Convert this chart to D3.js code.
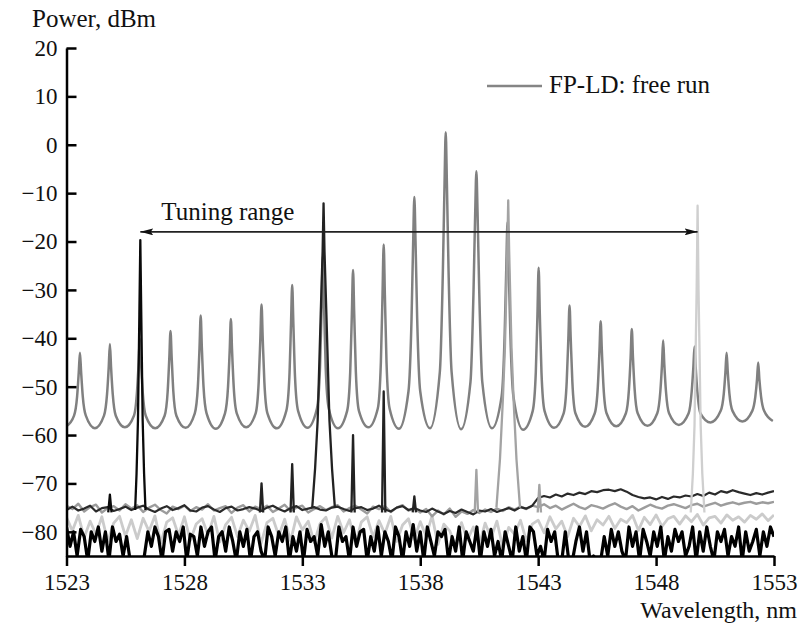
<!DOCTYPE html>
<html lang="en">
<head>
<meta charset="UTF-8">
<title>FP-LD spectrum</title>
<script src="https://d3js.org/d3.v7.min.js"></script>
<style>
    body { margin: 0; background: #fff; }
</style>
</head>
<body>
<script>
    // ---- data ----
    var xTicks = [1523, 1528, 1533, 1538, 1543, 1548, 1553];
    var yTicks = [20, 10, 0, -10, -20, -30, -40, -50, -60, -70, -80];

    // free running FP-LD: mode centres (nm) and levels (dBm)
    var modeNm = [1523.57, 1524.84, 1526.11, 1527.41, 1528.69, 1529.97, 1531.27, 1532.57, 1533.87, 1535.15, 1536.45, 1537.75,
                  1539.08, 1540.38, 1541.70, 1543.02, 1544.33, 1545.65, 1546.97, 1548.30, 1549.63, 1550.99, 1552.33];
    var freeRunPeak = [-43, -41.2, -40, -38.5, -35.3, -36, -33, -29, -23, -25.9, -20.6, -10.8,
                       2.6, -5.5, -16, -25.4, -33.2, -36.5, -38.1, -40.4, -41.7, -43, -45];
    var freeRunNear = [-47, -46, -45, -44, -42, -42.5, -40, -37, -33, -35, -31, -20,
                       -8, -14, -25, -35, -40, -42.5, -44, -45.5, -46, -47, -48.5];   // +/-0.05 nm
    var freeRunMid = [-52, -51.5, -51, -51, -50, -50, -49, -48, -46, -47, -45, -36,
                      -26, -30, -39, -47, -49, -50, -50.5, -51, -51, -51.5, -52];     // +/-0.12 nm
    var freeRunFar = [-56, -56, -56, -56, -55.5, -55.5, -55.5, -55, -54.5, -55, -54.5, -51,
                      -47, -49, -52, -55, -55.5, -55.5, -55.5, -55.5, -55.5, -55, -55]; // +/-0.25 nm
    // start, the 22 minima between modes, end
    var freeRunTrough = [-58.2, -58.6, -58.4, -58.6, -58.5, -58.7, -58.4, -58.6, -58.5, -58.6, -58.4, -58.7, -58.6,
                         -58.8, -58.6, -58.9, -58.5, -58.3, -58.2, -58.1, -57.9, -57.4, -57.2, -57.1];

    // injection-locked spectra: main peaks
    var lock1Peak = [[1525.91, -75.5], [1525.97, -68], [1526.03, -57], [1526.09, -35], [1526.13, -19.7],
                     [1526.17, -35], [1526.23, -57], [1526.29, -68], [1526.35, -75.5]];
    var lock2Peak = [[1533.42, -75], [1533.54, -67], [1533.65, -57], [1533.78, -35], [1533.86, -22], [1533.9, -12.1],
                     [1533.94, -22], [1534.02, -35], [1534.15, -57], [1534.26, -67], [1534.38, -75]];
    var lock3Peak = [[1541.23, -75], [1541.38, -65], [1541.5, -53], [1541.59, -42], [1541.69, -22], [1541.73, -11.5],
                     [1541.77, -22], [1541.87, -42], [1541.96, -53], [1542.08, -65], [1542.23, -75]];
    var lock4Peak = [[1549.47, -76], [1549.56, -68], [1549.63, -58], [1549.68, -42], [1549.72, -30], [1549.76, -12.6],
                     [1549.8, -30], [1549.84, -42], [1549.89, -58], [1549.96, -68], [1550.05, -76]];
    // small side modes of the locked spectra [nm, dBm]
    var lock1Side = [[1524.84, -72.3]];
    var lock2Side = [[1531.27, -70], [1532.57, -66], [1535.15, -60], [1536.45, -51], [1537.75, -72.7]];
    var lock3Side = [[1540.38, -67.2], [1543.05, -70.3]];

    // noise floors, from 1523 nm
    var floorStep = 0.25;
    var lock2Floor = [
        -75.5, -74.8, -75.6, -75.2, -74.6, -75.8, -75.1, -74.9, -75.7, -75.3, -74.8, -75.5,
        -75.0, -74.6, -75.4, -75.9, -75.2, -74.7, -75.5, -75.1, -74.5, -75.6, -75.8, -75.0,
        -74.7, -75.4, -75.9, -75.1, -74.8, -75.6, -75.3, -74.9, -75.2, -75.7, -75.0, -74.6,
        -75.3, -75.8, -75.1, -74.7, -75.5, -75.2, -74.9, -75.4, -75.6, -75.0, -74.8, -75.3,
        -75.7, -75.1, -74.9, -75.5, -75.2, -74.6, -75.4, -75.8, -75.0, -74.7, -75.5, -75.1,
        -75.6, -75.9, -75.2, -75.8, -76.3, -75.7, -76.1, -75.4, -75.9, -76.4, -75.6, -75.8,
        -75.3, -75.9, -75.5, -75.1, -75.6, -74.9, -75.2, -74.6,
        -73.0, -72.6, -72.9, -72.3, -72.7, -72.1, -72.4, -71.9, -72.2, -71.6, -71.8, -71.4,
        -71.3, -71.6, -71.2, -71.7, -72.4, -72.8, -73.1, -72.9, -73.3, -72.8, -73.2, -72.7,
        -72.9, -72.5, -72.7, -72.2, -72.6, -71.9, -72.3, -71.6, -71.9, -71.4, -71.8, -72.1,
        -72.4, -72.0, -72.3, -71.9, -71.6];
    var lock3Floor = [
        -74.6, -75.3, -74.2, -75.8, -74.9, -74.4, -76.0, -75.1, -74.7, -75.6, -74.3, -75.2,
        -74.5, -75.9, -75.0, -74.4, -75.5, -76.2, -74.8, -75.3, -74.6, -75.7, -74.9, -75.4,
        -74.3, -75.6, -75.1, -74.7, -76.1, -75.0, -74.5, -75.8, -74.8, -75.3, -74.6, -75.9,
        -75.2, -74.4, -75.7, -75.0, -74.6, -76.0, -75.3, -74.7, -75.5, -74.9, -74.5, -75.8,
        -75.1, -74.6, -75.4, -76.2, -74.8, -75.3, -74.7, -75.9, -75.0, -74.5, -75.6, -75.2,
        -76.0, -75.3, -76.8, -75.6, -76.4, -75.2, -76.9, -75.8, -76.3, -75.5, -76.1, -75.4,
        -75.9, -75.2, -75.7, -74.9, -75.4, -74.8, -75.3, -74.6,
        -74.9, -74.3, -75.1, -74.6, -75.4, -74.8, -74.2, -74.9, -75.3, -74.5, -74.8, -75.2,
        -74.6, -74.1, -74.8, -75.3, -74.7, -75.6, -75.0, -74.4, -74.9, -75.2, -74.6, -74.3,
        -74.7, -75.1, -74.5, -74.2, -74.8, -74.4, -74.0, -74.6, -74.2, -73.9, -74.3, -74.0,
        -73.8, -74.2, -73.9, -74.1, -73.8];
    var lock4Floor = [
        -77.0, -79.8, -76.6, -81.2, -77.8, -80.5, -76.9, -82.0, -78.2, -76.8, -80.9, -77.5,
        -81.4, -77.2, -79.9, -76.7, -82.3, -78.0, -77.1, -80.7, -76.9, -81.8, -78.4, -77.3,
        -80.6, -76.8, -82.1, -78.5, -77.0, -81.0, -77.6, -79.9, -76.6, -82.4, -78.1, -77.2,
        -80.8, -77.4, -81.9, -76.9, -79.6, -77.8, -82.2, -78.3, -77.0, -81.3, -76.8, -80.2,
        -77.5, -82.5, -78.0, -76.9, -81.1, -77.7, -80.4, -76.8, -82.0, -78.6, -77.3, -81.5,
        -77.9, -80.9, -76.7, -82.6, -78.4, -79.8, -83.0, -78.1, -81.7, -79.0, -82.8, -78.2,
        -81.3, -77.8, -83.2, -79.1, -80.5, -77.6, -81.9, -78.4,
        -77.6, -80.2, -76.9, -79.4, -77.8, -81.0, -77.2, -78.9, -76.7, -79.8, -77.5, -78.6,
        -76.8, -79.3, -77.4, -78.1, -76.6, -79.7, -77.0, -78.5, -76.5, -78.9, -77.3, -76.8,
        -78.4, -76.7, -77.9, -76.4, -78.6, -77.1, -76.8, -78.2, -76.5, -77.6, -76.9, -78.0,
        -76.6, -77.4, -76.3, -77.7, -76.5];
    var blackStep = 0.15;
    var lock1Floor = [
        -79, -83, -80, -85, -79.5, -81, -86, -80, -82, -79,
        -84, -80, -86, -79, -82, -80.5, -85, -81, -86, -86,
        -86, -86, -85, -80, -83, -79, -81, -86, -80, -79.5,
        -84, -80, -82, -79, -86, -80.5, -81, -85, -79, -83,
        -80, -79, -86, -81, -80, -84, -79, -82, -86, -80,
        -83, -79.5, -86, -81, -80, -84, -86, -79, -81, -85,
        -80, -82, -79, -86, -81, -84, -80, -86, -79.5, -82,
        -81, -85, -78.5, -83, -80, -85, -86, -79, -82, -81,
        -86, -79, -83, -80, -79.5, -86, -81, -84, -79, -85,
        -80, -82, -86, -79, -81, -86, -80, -83, -78.5, -84,
        -80, -86, -79, -82, -85, -80, -81, -79.5, -86, -81,
        -84, -79, -86, -80, -82, -84, -79, -86, -80, -83,
        -79.5, -85, -82, -86, -80, -83, -86, -79, -84, -81,
        -86, -79, -80, -85, -83, -86, -79.5, -82, -80, -86,
        -86, -80, -86, -86, -82, -79, -84, -80, -86, -85,
        -86, -86, -81, -85, -79.5, -83, -80, -84, -86, -79,
        -83, -80, -86, -79.5, -82, -85, -80, -83, -79, -86,
        -81, -84, -79.5, -82, -80, -85, -83, -79, -86, -80,
        -84, -79, -83, -86, -80, -82, -79.5, -85, -81, -83,
        -79, -86, -80, -84, -82, -79.5, -85, -80, -83, -79,
        -81];

    var tuningRange = [1526.13, 1549.76];
    var tuningLevel = -18;

    // ---- chart ----
    var FONT = "'Liberation Serif', 'DejaVu Serif', 'Times New Roman', Times, serif";

    var margin = {top: 48, right: 27, bottom: 74, left: 66.5},
        width = 801 - margin.left - margin.right,
        height = 630 - margin.top - margin.bottom;

    var root = d3.select("body").append("svg")
        .attr("width", 801)
        .attr("height", 630);
    var svg = root.append("g")
        .attr("transform", "translate(" + margin.left + "," + margin.top + ")");

    var x = d3.scaleLinear().domain([1523, 1553]).range([0, width]);
    var y = d3.scaleLinear().domain([-85, 20]).range([height, 0]);

    var defs = root.append("defs");
    defs.append("clipPath").attr("id", "plot")
        .append("rect").attr("x", 0).attr("y", -2).attr("width", width).attr("height", height + 2);

    var line = d3.line().x(function(d) { return x(d[0]); }).y(function(d) { return y(d[1]); });
    var smooth = d3.line().x(function(d) { return x(d[0]); }).y(function(d) { return y(d[1]); })
        .curve(d3.curveMonotoneX);

    function floorPoints(values, step) {
        return values.map(function(v, i) { return [1523 + i * step, v]; });
    }
    function spike(d) {
        return [[d[0] - 0.07, -76], [d[0], d[1]], [d[0] + 0.07, -76]];
    }

    // free run curve assembled from the levels above
    var freeRun = [[1523.0, freeRunTrough[0]]];
    modeNm.forEach(function(c, i) {
        freeRun.push([c - 0.25, freeRunFar[i]], [c - 0.12, freeRunMid[i]], [c - 0.05, freeRunNear[i]],
                     [c, freeRunPeak[i]],
                     [c + 0.05, freeRunNear[i]], [c + 0.12, freeRunMid[i]], [c + 0.25, freeRunFar[i]]);
        var next = i < modeNm.length - 1 ? (c + modeNm[i + 1]) / 2 : 1552.95;
        freeRun.push([next, freeRunTrough[i + 1]]);
    });

    var plot = svg.append("g").attr("clip-path", "url(#plot)")
        .style("fill", "none")
        .style("stroke-linejoin", "round");

    plot.append("path").attr("d", line(floorPoints(lock4Floor, floorStep)))
        .style("stroke", "#cbcbcb").style("stroke-width", 2.8);
    plot.append("path").attr("d", line(floorPoints(lock3Floor, floorStep)))
        .style("stroke", "#9c9c9c").style("stroke-width", 2.4);
    plot.append("path").attr("d", line(floorPoints(lock2Floor, floorStep)))
        .style("stroke", "#2a2a2a").style("stroke-width", 2.2);
    plot.append("path").attr("d", line(floorPoints(lock1Floor, blackStep)))
        .style("stroke", "#000").style("stroke-width", 3.2);

    plot.append("path").attr("d", smooth(freeRun))
        .style("stroke", "#808080").style("stroke-width", 2.5);

    var peaks = [
        {pts: lock3Peak, side: lock3Side, color: "#a3a3a3"},
        {pts: lock4Peak, side: [], color: "#cfcfcf"},
        {pts: lock1Peak, side: lock1Side, color: "#0a0a0a"},
        {pts: lock2Peak, side: lock2Side, color: "#222"}
    ];
    peaks.forEach(function(p) {
        plot.append("path").attr("d", line(p.pts))
            .style("stroke", p.color).style("stroke-width", 2.3);
        p.side.forEach(function(s) {
            plot.append("path").attr("d", line(spike(s)))
                .style("stroke", p.color).style("stroke-width", 2.3);
        });
    });

    // tuning range arrow
    defs.append("marker")
        .attr("id", "head")
        .attr("viewBox", "0 0 13 7")
        .attr("refX", 13).attr("refY", 3.5)
        .attr("markerWidth", 13).attr("markerHeight", 7)
        .attr("markerUnits", "userSpaceOnUse")
        .attr("orient", "auto-start-reverse")
        .append("path").attr("d", "M0,0L13,3.5L0,7L2.5,3.5z").style("fill", "#111");

    svg.append("line")
        .attr("x1", x(tuningRange[0])).attr("x2", x(tuningRange[1]))
        .attr("y1", y(tuningLevel)).attr("y2", y(tuningLevel))
        .style("stroke", "#222").style("stroke-width", 1.8)
        .attr("marker-start", "url(#head)")
        .attr("marker-end", "url(#head)");

    svg.append("text")
        .attr("x", x(tuningRange[0]) + 21)
        .attr("y", y(tuningLevel) - 12)
        .style("font-family", FONT)
        .style("font-size", "25px")
        .style("fill", "#111")
        .text("Tuning range");

    // axes
    var yAxis = svg.append("g")
        .call(d3.axisLeft(y).tickValues(yTicks).tickSizeInner(-10).tickSizeOuter(0).tickPadding(9));
    var xAxis = svg.append("g")
        .attr("transform", "translate(0," + height + ")")
        .call(d3.axisBottom(x).tickValues(xTicks).tickFormat(d3.format("d")).tickSizeInner(10).tickSizeOuter(0).tickPadding(8));

    [yAxis, xAxis].forEach(function(a) {
        a.attr("font-family", null).attr("font-size", null);
        a.select(".domain").style("stroke", "#000").style("stroke-width", 2.5);
        a.selectAll(".tick line").style("stroke", "#000").style("stroke-width", 2.5);
        a.selectAll(".tick text")
            .style("font-family", FONT)
            .style("font-size", "23px")
            .style("fill", "#111");
    });

    // axis titles
    root.append("text")
        .attr("x", 32).attr("y", 27)
        .style("font-family", FONT)
        .style("font-size", "25px")
        .style("fill", "#111")
        .text("Power, dBm");

    root.append("text")
        .attr("x", 797).attr("y", 618)
        .attr("text-anchor", "end")
        .style("font-family", FONT)
        .style("font-size", "24px")
        .style("fill", "#111")
        .text("Wavelength, nm");

    // legend
    root.append("line")
        .attr("x1", 487).attr("x2", 542)
        .attr("y1", 86).attr("y2", 86)
        .style("stroke", "#858585").style("stroke-width", 2.5);
    root.append("text")
        .attr("x", 549).attr("y", 93)
        .style("font-family", FONT)
        .style("font-size", "25px")
        .style("fill", "#111")
        .text("FP-LD: free run");
</script>
</body>
</html>
